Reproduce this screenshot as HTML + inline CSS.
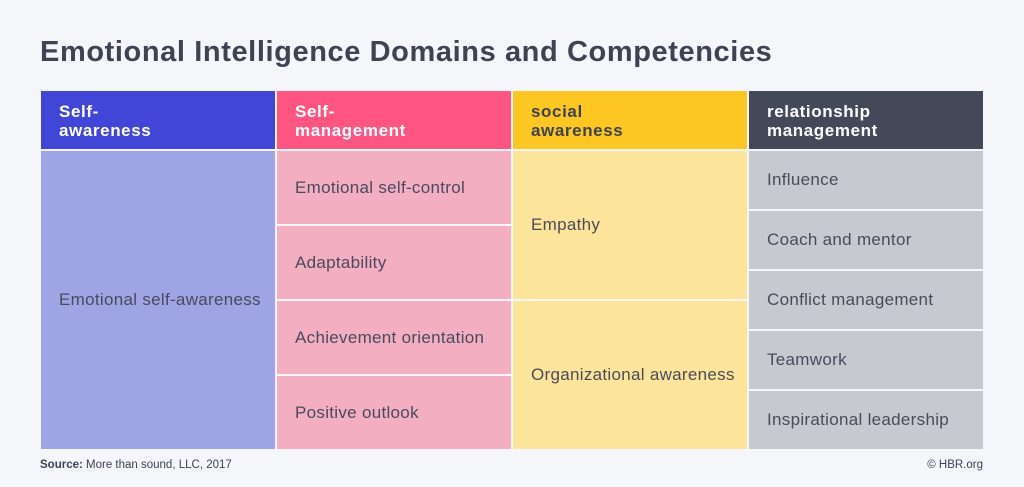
<!DOCTYPE html>
<html><head><meta charset="utf-8"><style>
body{margin:0;width:1024px;height:487px;background:#f5f6fa;font-family:"Liberation Sans",sans-serif;position:relative;overflow:hidden}
.t{position:absolute;left:40px;top:36px;font-size:29px;font-weight:bold;color:#3d4352;letter-spacing:0.6px;white-space:nowrap}
.c{position:absolute;box-sizing:border-box;padding-left:18px;display:flex;align-items:center;font-size:17px;letter-spacing:0.3px;color:#4a4a5c}
.h{font-weight:bold;font-size:17px;line-height:19px;letter-spacing:0.6px;color:#fff;align-items:flex-start;padding-top:11px}
.f{position:absolute;top:459px;font-size:11.5px;color:#3d4352}
</style></head><body>
<div class="t">Emotional Intelligence Domains and Competencies</div>
<div class="c h" style="left:41px;top:91px;width:234px;height:58px;background:#4146d6">Self-<br>awareness</div>
<div class="c h" style="left:277px;top:91px;width:234px;height:58px;background:#fe5582">Self-<br>management</div>
<div class="c h" style="left:513px;top:91px;width:234px;height:58px;background:#fdc622;color:#3d4352">social<br>awareness</div>
<div class="c h" style="left:749px;top:91px;width:234px;height:58px;background:#434958">relationship<br>management</div>

<div class="c" style="left:41px;top:151px;width:234px;height:298px;background:#9fa4e4">Emotional self-awareness</div>

<div class="c" style="left:277px;top:151px;width:234px;height:73px;background:#f3aec2">Emotional self-control</div>
<div class="c" style="left:277px;top:226px;width:234px;height:73px;background:#f3aec2">Adaptability</div>
<div class="c" style="left:277px;top:301px;width:234px;height:73px;background:#f3aec2">Achievement orientation</div>
<div class="c" style="left:277px;top:376px;width:234px;height:73px;background:#f3aec2">Positive outlook</div>

<div class="c" style="left:513px;top:151px;width:234px;height:148px;background:#fce59a">Empathy</div>
<div class="c" style="left:513px;top:301px;width:234px;height:148px;background:#fce59a">Organizational awareness</div>

<div class="c" style="left:749px;top:151px;width:234px;height:58px;background:#c7c9d0">Influence</div>
<div class="c" style="left:749px;top:211px;width:234px;height:58px;background:#c7c9d0">Coach and mentor</div>
<div class="c" style="left:749px;top:271px;width:234px;height:58px;background:#c7c9d0">Conflict management</div>
<div class="c" style="left:749px;top:331px;width:234px;height:58px;background:#c7c9d0">Teamwork</div>
<div class="c" style="left:749px;top:391px;width:234px;height:58px;background:#c7c9d0">Inspirational leadership</div>

<div class="f" style="left:40px"><b>Source:</b> More than sound, LLC, 2017</div>
<div class="f" style="right:41px">© HBR.org</div>
</body></html>
